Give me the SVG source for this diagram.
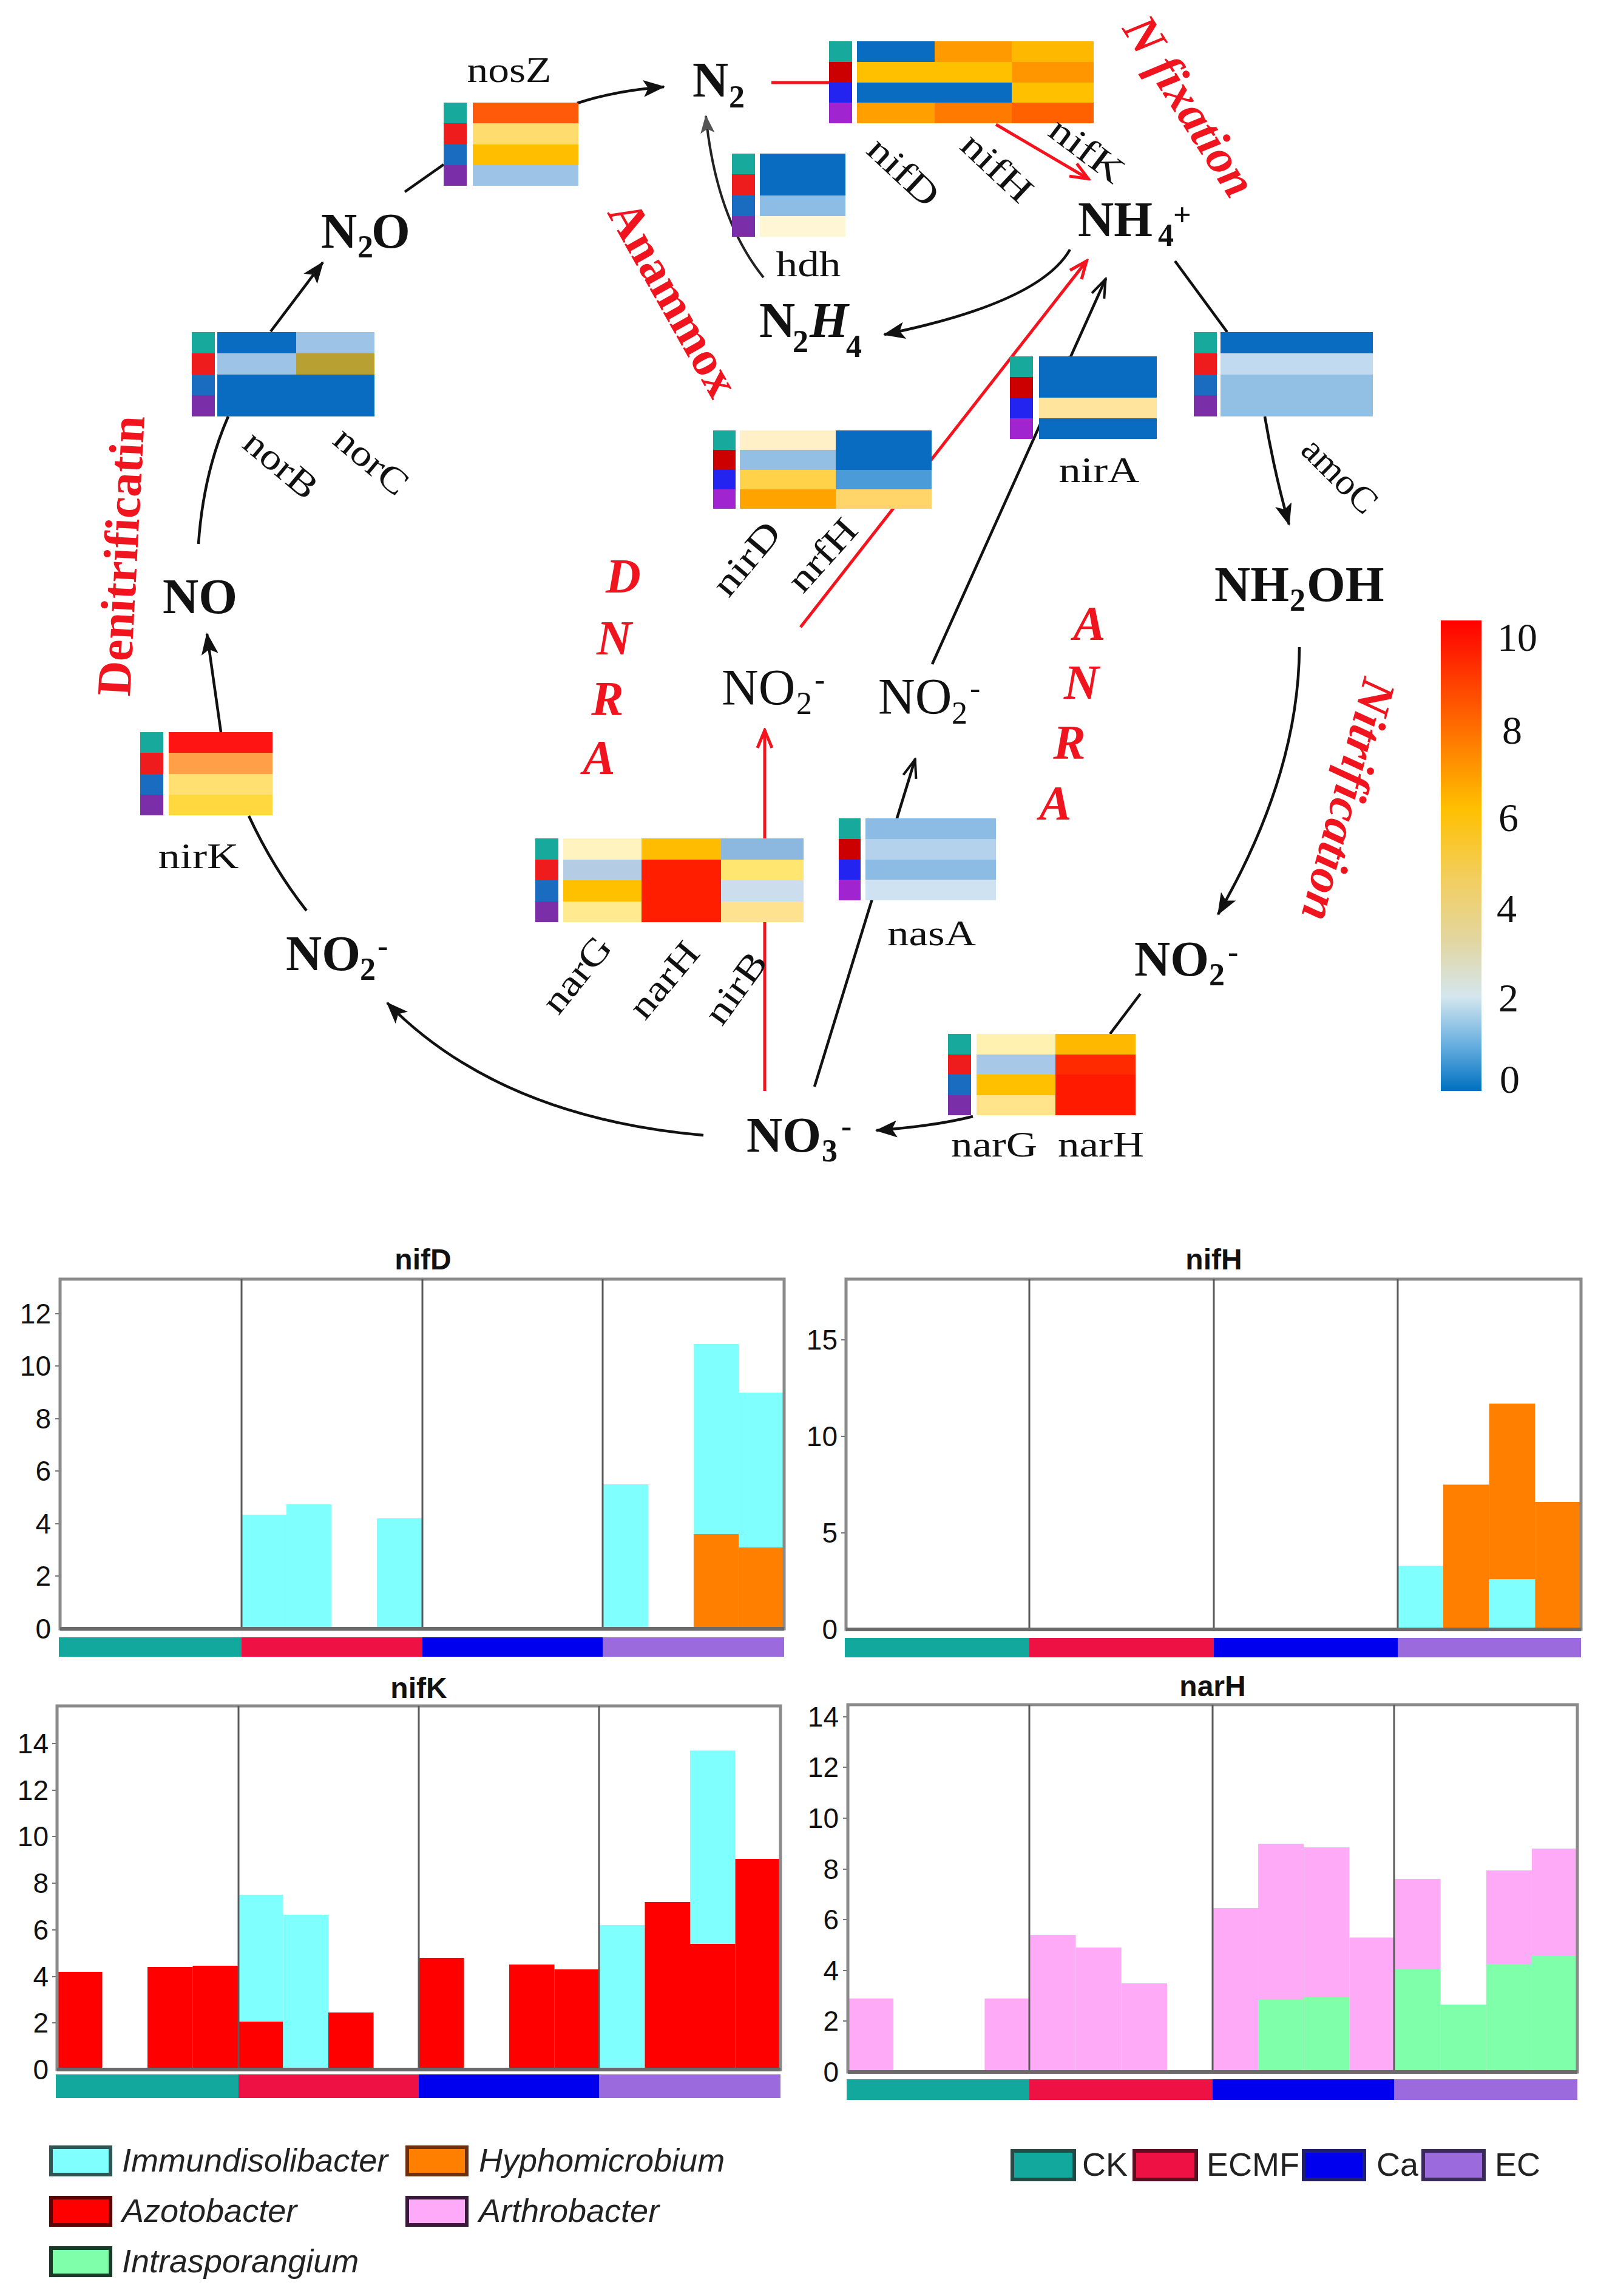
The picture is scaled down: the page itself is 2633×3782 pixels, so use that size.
<svg xmlns="http://www.w3.org/2000/svg" width="2633" height="3782" viewBox="0 0 2633 3782">
<defs>
<style>
.chem{font-family:"Liberation Serif","Times New Roman",serif;font-weight:bold;font-size:82px;fill:#111}
.chemr{font-family:"Liberation Serif","Times New Roman",serif;font-size:84px;fill:#111}
.sub{font-size:52px}
.gene{font-family:"Liberation Serif","Times New Roman",serif;font-size:60px;fill:#111;text-anchor:middle}
.rot{dominant-baseline:central}
.proc{font-family:"Liberation Serif","Times New Roman",serif;font-weight:bold;font-size:80px;fill:#F0141E}
.it{font-style:italic}
.ln{fill:none;stroke:#111;stroke-width:4.5}
.rl{fill:none;stroke:#F5141E;stroke-width:5}
.hm{shape-rendering:crispEdges}
.ax{font-family:"Liberation Sans",Arial,sans-serif;font-size:46px;fill:#111;text-anchor:end}
.ttl{font-family:"Liberation Sans",Arial,sans-serif;font-size:48px;font-weight:bold;fill:#111;text-anchor:middle}
.frame{fill:none;stroke:#8A8A8A;stroke-width:5}
.sep{stroke:#5A5A5A;stroke-width:3}
.base{stroke:#6A6A6A;stroke-width:6}
.tk{stroke:#777;stroke-width:2}
.leg{font-family:"Liberation Sans",Arial,sans-serif;font-size:54px;fill:#222}
.sw{stroke-width:6}
.cs{font-family:"Liberation Serif","Times New Roman",serif;font-size:66px;fill:#111}
.c{fill:#80FFFF}.o{fill:#FF8000}.r{fill:#FF0000}.p{fill:#FFAAF6}.g{fill:#80FFAA}
.sT{fill:#17A99B}.sR{fill:#EE1C1C}.sB{fill:#1A6CC0}.sP{fill:#7A2FA8}
.aR{fill:#CC0000}.aB{fill:#2424F0}.aP{fill:#A024D0}
.db{fill:#0A6CC0}
.gT{fill:#13A89E}.gR{fill:#EE1144}.gB{fill:#0000EE}.gP{fill:#9B6BDD}
</style>
<marker id="ah" markerUnits="userSpaceOnUse" viewBox="0 0 36 28" markerWidth="36" markerHeight="28" refX="34" refY="14" orient="auto"><path d="M0,0 L36,14 L0,28 L8,14 z" fill="#111"/></marker>
<marker id="ahg" markerUnits="userSpaceOnUse" viewBox="0 0 36 28" markerWidth="30" markerHeight="24" refX="34" refY="14" orient="auto"><path d="M0,0 L36,14 L0,28 L8,14 z" fill="#555"/></marker>
<marker id="av" markerUnits="userSpaceOnUse" viewBox="0 0 36 28" markerWidth="36" markerHeight="28" refX="34" refY="14" orient="auto"><path d="M3,3 L33,14 L3,25" fill="none" stroke="#111" stroke-width="4"/></marker>
<marker id="avr" markerUnits="userSpaceOnUse" viewBox="0 0 36 30" markerWidth="36" markerHeight="30" refX="33" refY="15" orient="auto"><path d="M3,3 L32,15 L3,27" fill="none" stroke="#F5141E" stroke-width="5"/></marker>
<linearGradient id="cbar" x1="0" y1="0" x2="0" y2="1">
<stop offset="0" stop-color="#FF0000"/>
<stop offset="0.12" stop-color="#FF3A00"/>
<stop offset="0.25" stop-color="#FF7800"/>
<stop offset="0.4" stop-color="#FFC000"/>
<stop offset="0.55" stop-color="#F2CE60"/>
<stop offset="0.68" stop-color="#E2D6A0"/>
<stop offset="0.8" stop-color="#D4E6EE"/>
<stop offset="0.9" stop-color="#6AB0E0"/>
<stop offset="1" stop-color="#0070C0"/>
</linearGradient>
</defs>
<rect width="2633" height="3782" fill="#fff"/>

<g id="connectors">
<path class="ln" d="M951 170 Q1010 150 1094 143" marker-end="url(#ah)"/>
<path class="ln" d="M446 546 L532 432" marker-end="url(#ah)"/>
<path class="ln" d="M667 316 L731 271"/>
<path class="ln" d="M327 896 Q335 780 376 686"/>
<path class="ln" d="M364 1206 L341 1044" marker-end="url(#ah)"/>
<path class="ln" d="M505 1500 Q450 1430 410 1344"/>
<path class="ln" d="M1159 1870 Q822 1840 638 1652" marker-end="url(#ah)"/>
<path d="M1258 457 Q1180 360 1163 191" fill="none" stroke="#222" stroke-width="4" marker-end="url(#ahg)"/>
<path class="ln" d="M1763 411 Q1713 499 1457 551" marker-end="url(#ah)"/>
<path class="rl" d="M1271 136 L1370 136"/>
<path class="rl" d="M1641 205 L1794 295" marker-end="url(#avr)"/>
<path class="rl" d="M1319 1033 L1791 429" marker-end="url(#avr)"/>
<path class="rl" d="M1260 1797 L1260 1202" marker-end="url(#avr)"/>
<path class="ln" d="M1536 1094 L1822 459" stroke-width="4" marker-end="url(#av)"/>
<path class="ln" d="M1342 1790 L1508 1250" stroke-width="4" marker-end="url(#av)"/>
<path class="ln" d="M1936 430 L2022 547"/>
<path class="ln" d="M2084 686 Q2100 780 2124 864" marker-end="url(#ah)"/>
<path class="ln" d="M2141 1066 Q2140 1276 2007 1506" marker-end="url(#ah)"/>
<path class="ln" d="M1879 1637 L1829 1703"/>
<path class="ln" d="M1603 1839 Q1540 1855 1444 1862" marker-end="url(#ah)"/>
</g>

<g id="heat-nosZ" class="hm">
<rect class="sT" x="731" y="169" width="38" height="35"/><rect class="sR" x="731" y="203.25" width="38" height="35"/><rect class="sB" x="731" y="237.5" width="38" height="35"/><rect class="sP" x="731" y="271.75" width="38" height="34.25"/>
<rect fill="#FF5A0A" x="779" y="169" width="174" height="35"/><rect fill="#FFDC6E" x="779" y="203.25" width="174" height="35"/><rect fill="#FFBE00" x="779" y="237.5" width="174" height="35"/><rect fill="#9DC3E6" x="779" y="271.75" width="174" height="34.25"/>
</g>
<g id="heat-nif" class="hm">
<rect class="sT" x="1366" y="68" width="38" height="34.5"/><rect class="aR" x="1366" y="101.75" width="38" height="34.5"/><rect class="aB" x="1366" y="135.5" width="38" height="34.5"/><rect class="aP" x="1366" y="169.25" width="38" height="33.75"/>
<rect class="db" x="1412" y="68" width="128" height="34.5"/><rect fill="#FF9A00" x="1540" y="68" width="127" height="34.5"/><rect fill="#FFB800" x="1667" y="68" width="135" height="34.5"/>
<rect fill="#FFC000" x="1412" y="101.75" width="255" height="34.5"/><rect fill="#FF9600" x="1667" y="101.75" width="135" height="34.5"/>
<rect class="db" x="1412" y="135.5" width="255" height="34.5"/><rect fill="#FFC000" x="1667" y="135.5" width="135" height="34.5"/>
<rect fill="#FFA000" x="1412" y="169.25" width="128" height="33.75"/><rect fill="#FF7A00" x="1540" y="169.25" width="127" height="33.75"/><rect fill="#FF6000" x="1667" y="169.25" width="135" height="33.75"/>
</g>
<g id="heat-hdh" class="hm">
<rect class="sT" x="1206" y="253" width="38" height="35"/><rect class="sR" x="1206" y="287.25" width="38" height="35"/><rect class="sB" x="1206" y="321.5" width="38" height="35"/><rect class="sP" x="1206" y="355.75" width="38" height="34.25"/>
<rect class="db" x="1252" y="253" width="141" height="69"/><rect fill="#8DBCE4" x="1252" y="321.5" width="141" height="35"/><rect fill="#FFF6D6" x="1252" y="355.75" width="141" height="34.25"/>
</g>
<g id="heat-nor" class="hm">
<rect class="sT" x="316" y="547" width="38" height="35.5"/><rect class="sR" x="316" y="581.75" width="38" height="35.5"/><rect class="sB" x="316" y="616.5" width="38" height="35.5"/><rect class="sP" x="316" y="651.25" width="38" height="34.75"/>
<rect class="db" x="358" y="547" width="130" height="35.5"/><rect fill="#9DC3E6" x="488" y="547" width="129" height="35.5"/>
<rect fill="#9DC3E6" x="358" y="581.75" width="130" height="35.5"/><rect fill="#B8A032" x="488" y="581.75" width="129" height="35.5"/>
<rect class="db" x="358" y="616.5" width="259" height="69.5"/>
</g>
<g id="heat-nirD" class="hm">
<rect class="sT" x="1175" y="709" width="37" height="33"/><rect class="aR" x="1175" y="741.25" width="37" height="33"/><rect class="aB" x="1175" y="773.5" width="37" height="33"/><rect class="aP" x="1175" y="805.75" width="37" height="32.25"/>
<rect fill="#FFF0C8" x="1219" y="709" width="158" height="33"/><rect fill="#94BFE4" x="1219" y="741.25" width="158" height="33"/><rect fill="#FFD24A" x="1219" y="773.5" width="158" height="33"/><rect fill="#FFA300" x="1219" y="805.75" width="158" height="32.25"/>
<rect class="db" x="1377" y="709" width="158" height="65"/><rect fill="#4B9BD8" x="1377" y="773.5" width="158" height="33"/><rect fill="#FFD468" x="1377" y="805.75" width="158" height="32.25"/>
</g>
<g id="heat-nirA" class="hm">
<rect class="sT" x="1664" y="587" width="38" height="34.5"/><rect class="aR" x="1664" y="621" width="38" height="34.5"/><rect class="aB" x="1664" y="655" width="38" height="34.5"/><rect class="aP" x="1664" y="689" width="38" height="34"/>
<rect class="db" x="1712" y="587" width="194" height="68.5"/><rect fill="#FFE49E" x="1712" y="655" width="194" height="34.5"/><rect class="db" x="1712" y="689" width="194" height="34"/>
</g>
<g id="heat-amoC" class="hm">
<rect class="sT" x="1967" y="547" width="38" height="35.5"/><rect class="sR" x="1967" y="581.75" width="38" height="35.5"/><rect class="sB" x="1967" y="616.5" width="38" height="35.5"/><rect class="sP" x="1967" y="651.25" width="38" height="34.75"/>
<rect class="db" x="2011" y="547" width="251" height="35.5"/><rect fill="#C2DAEF" x="2011" y="581.75" width="251" height="35.5"/><rect fill="#92BFE4" x="2011" y="616.5" width="251" height="69.5"/>
</g>
<g id="heat-nirK" class="hm">
<rect class="sT" x="231" y="1206" width="38" height="35"/><rect class="sR" x="231" y="1240.25" width="38" height="35"/><rect class="sB" x="231" y="1274.5" width="38" height="35"/><rect class="sP" x="231" y="1308.75" width="38" height="34.25"/>
<rect fill="#FF1414" x="278" y="1206" width="171" height="35"/><rect fill="#FFA048" x="278" y="1240.25" width="171" height="35"/><rect fill="#FFE070" x="278" y="1274.5" width="171" height="35"/><rect fill="#FFD840" x="278" y="1308.75" width="171" height="34.25"/>
</g>
<g id="heat-narGHB" class="hm">
<rect class="sT" x="882" y="1381" width="38" height="35"/><rect class="sR" x="882" y="1415.5" width="38" height="35"/><rect class="sB" x="882" y="1450" width="38" height="35"/><rect class="sP" x="882" y="1484.5" width="38" height="34.5"/>
<rect fill="#FFF3C0" x="928" y="1381" width="129" height="35"/><rect fill="#B4CCE4" x="928" y="1415.5" width="129" height="35"/><rect fill="#FFC000" x="928" y="1450" width="129" height="35"/><rect fill="#FFEA90" x="928" y="1484.5" width="129" height="34.5"/>
<rect fill="#FFBC00" x="1057" y="1381" width="131" height="35"/><rect fill="#FF1E00" x="1057" y="1415.5" width="131" height="103.5"/>
<rect fill="#8CB8E0" x="1188" y="1381" width="136" height="35"/><rect fill="#FFE670" x="1188" y="1415.5" width="136" height="35"/><rect fill="#CCDDED" x="1188" y="1450" width="136" height="35"/><rect fill="#FFE290" x="1188" y="1484.5" width="136" height="34.5"/>
</g>
<g id="heat-nasA" class="hm">
<rect class="sT" x="1382" y="1348" width="36" height="34.5"/><rect class="aR" x="1382" y="1381.75" width="36" height="34.5"/><rect class="aB" x="1382" y="1415.5" width="36" height="34.5"/><rect class="aP" x="1382" y="1449.25" width="36" height="33.75"/>
<rect fill="#8CBCE4" x="1426" y="1348" width="215" height="34.5"/><rect fill="#B4D2EC" x="1426" y="1381.75" width="215" height="34.5"/><rect fill="#8CBCE4" x="1426" y="1415.5" width="215" height="34.5"/><rect fill="#CFE2F2" x="1426" y="1449.25" width="215" height="33.75"/>
</g>
<g id="heat-narGH" class="hm">
<rect class="sT" x="1562" y="1703" width="38" height="34"/><rect class="sR" x="1562" y="1736.5" width="38" height="34"/><rect class="sB" x="1562" y="1770" width="38" height="34"/><rect class="sP" x="1562" y="1803.5" width="38" height="33.5"/>
<rect fill="#FFF2B0" x="1609" y="1703" width="130" height="34"/><rect fill="#A8C8E8" x="1609" y="1736.5" width="130" height="34"/><rect fill="#FFC000" x="1609" y="1770" width="130" height="34"/><rect fill="#FFE48C" x="1609" y="1803.5" width="130" height="33.5"/>
<rect fill="#FFB800" x="1739" y="1703" width="132" height="34"/><rect fill="#FF2A00" x="1739" y="1736.5" width="132" height="34"/><rect fill="#FF1A00" x="1739" y="1770" width="132" height="67"/>
</g>

<g id="gene-labels">
<text class="gene" x="839" y="135" textLength="139" lengthAdjust="spacingAndGlyphs">nosZ</text>
<text class="gene" x="1332" y="455" textLength="107" lengthAdjust="spacingAndGlyphs">hdh</text>
<text class="gene" x="1811" y="794" textLength="133" lengthAdjust="spacingAndGlyphs">nirA</text>
<text class="gene" x="1535" y="1557" textLength="146" lengthAdjust="spacingAndGlyphs">nasA</text>
<text class="gene" x="327" y="1430" textLength="133" lengthAdjust="spacingAndGlyphs">nirK</text>
<text class="gene" x="1638" y="1905" textLength="142" lengthAdjust="spacingAndGlyphs">narG</text>
<text class="gene" x="1814" y="1905" textLength="142" lengthAdjust="spacingAndGlyphs">narH</text>
<text class="gene rot" transform="translate(463 765) rotate(40)" textLength="140" lengthAdjust="spacingAndGlyphs">norB</text>
<text class="gene rot" transform="translate(612 759) rotate(40)" textLength="140" lengthAdjust="spacingAndGlyphs">norC</text>
<text class="gene rot" transform="translate(1489 283) rotate(43)" textLength="138" lengthAdjust="spacingAndGlyphs">nifD</text>
<text class="gene rot" transform="translate(1643 276) rotate(43)" textLength="138" lengthAdjust="spacingAndGlyphs">nifH</text>
<text class="gene rot" transform="translate(1791 247) rotate(37)" textLength="138" lengthAdjust="spacingAndGlyphs">nifK</text>
<text class="gene rot" transform="translate(1230 920) rotate(-50)" textLength="140" lengthAdjust="spacingAndGlyphs">nirD</text>
<text class="gene rot" transform="translate(1355 914) rotate(-48)" textLength="140" lengthAdjust="spacingAndGlyphs">nrfH</text>
<text class="gene rot" transform="translate(950 1605) rotate(-51)" textLength="145" lengthAdjust="spacingAndGlyphs">narG</text>
<text class="gene rot" transform="translate(1094 1614) rotate(-50)" textLength="145" lengthAdjust="spacingAndGlyphs">narH</text>
<text class="gene rot" transform="translate(1212 1627) rotate(-54)" textLength="132" lengthAdjust="spacingAndGlyphs">nirB</text>
<text class="gene rot" transform="translate(2208 783) rotate(45)" textLength="150" lengthAdjust="spacingAndGlyphs">amoC</text>
</g>

<g id="compounds">
<text id="N2" class="chem" x="1141" y="159">N<tspan class="sub" x="1201" y="177">2</tspan></text>
<text id="N2O" class="chem" x="529" y="408">N<tspan class="sub" x="589" y="424">2</tspan><tspan x="612" y="408">O</tspan></text>
<text id="NO" class="chem" x="268" y="1010">NO</text>
<text id="NO2-left" class="chem" x="471" y="1598">NO<tspan class="sub" x="593" y="1614">2</tspan><tspan class="sub" x="622" y="1575">-</tspan></text>
<text id="NH4" class="chem" x="1776" y="389" font-size="88">NH<tspan class="sub" x="1908" y="405">4</tspan><tspan class="sub" x="1933" y="371">+</tspan></text>
<text id="N2H4" class="chem" x="1251" y="555">N<tspan class="sub" x="1306" y="580">2</tspan><tspan class="it" x="1334" y="555">H</tspan><tspan class="sub" x="1394" y="588">4</tspan></text>
<text id="NH2OH" class="chem" x="2001" y="990">NH<tspan class="sub" x="2125" y="1006">2</tspan><tspan x="2153" y="990">OH</tspan></text>
<text id="NO2-right" class="chem" x="1869" y="1607">NO<tspan class="sub" x="1992" y="1623">2</tspan><tspan class="sub" x="2023" y="1585">-</tspan></text>
<text id="NO3" class="chem" x="1230" y="1897">NO<tspan class="sub" x="1354" y="1913">3</tspan><tspan class="sub" x="1386" y="1872">-</tspan></text>
<text id="NO2-dnra" class="chemr" x="1189" y="1161">NO<tspan class="sub" x="1312" y="1176">2</tspan><tspan class="sub" x="1342" y="1137">-</tspan></text>
<text id="NO2-anra" class="chemr" x="1447" y="1176">NO<tspan class="sub" x="1568" y="1192">2</tspan><tspan class="sub" x="1598" y="1151">-</tspan></text>
</g>

<g id="processes">
<text class="proc" text-anchor="middle" transform="translate(226 917) rotate(-87)">Denitrificatin</text>
<text class="proc" text-anchor="middle" transform="translate(1087 505) rotate(60.6)">Anammox</text>
<text class="proc it" text-anchor="middle" transform="translate(1938 189) rotate(57.6)">N fixation</text>
<text class="proc it" text-anchor="middle" transform="translate(2196 1311) rotate(104.8)">Nitrification</text>
<g class="proc it" text-anchor="middle" font-size="82">
<text x="1027" y="976">D</text><text x="1012" y="1078">N</text><text x="1001" y="1178">R</text><text x="987" y="1275">A</text>
<text x="1795" y="1054">A</text><text x="1782" y="1151">N</text><text x="1762" y="1250">R</text><text x="1739" y="1350">A</text>
</g>
</g>

<g id="colorbar">
<rect x="2374" y="1022" width="67" height="775" fill="url(#cbar)"/>
<text class="cs" x="2467" y="1072">10</text>
<text class="cs" x="2475" y="1225">8</text>
<text class="cs" x="2469" y="1369">6</text>
<text class="cs" x="2466" y="1519">4</text>
<text class="cs" x="2469" y="1666">2</text>
<text class="cs" x="2471" y="1800">0</text>
</g>

<g id="chart-nifD">
<text class="ttl" x="697" y="2091">nifD</text>
<rect class="c" x="397.3" y="2495" width="74.6" height="188"/>
<rect class="c" x="471.8" y="2478" width="74.6" height="205"/>
<rect class="c" x="620.9" y="2501" width="74.6" height="182"/>
<rect class="c" x="993.8" y="2445" width="74.6" height="238"/>
<rect class="o" x="1142.9" y="2527" width="74.6" height="156"/>
<rect class="c" x="1142.9" y="2214" width="74.6" height="313"/>
<rect class="o" x="1217.4" y="2549" width="74.6" height="134"/>
<rect class="c" x="1217.4" y="2294" width="74.6" height="255"/>
<rect class="frame" x="99" y="2107" width="1193" height="576"/>
<line class="sep" x1="398" y1="2107" x2="398" y2="2683"/><line class="sep" x1="696" y1="2107" x2="696" y2="2683"/><line class="sep" x1="993" y1="2107" x2="993" y2="2683"/>
<line class="base" x1="99" y1="2683" x2="1292" y2="2683"/>
<g class="ax"><text x="84" y="2699">0</text><text x="84" y="2612">2</text><text x="84" y="2526">4</text><text x="84" y="2439">6</text><text x="84" y="2353">8</text><text x="84" y="2266">10</text><text x="84" y="2180">12</text></g>
<g class="tk"><line x1="91" y1="2596" x2="97" y2="2596"/><line x1="91" y1="2510" x2="97" y2="2510"/><line x1="91" y1="2423" x2="97" y2="2423"/><line x1="91" y1="2337" x2="97" y2="2337"/><line x1="91" y1="2250" x2="97" y2="2250"/><line x1="91" y1="2164" x2="97" y2="2164"/></g>
<rect class="gT" x="97" y="2697" width="301" height="32"/><rect class="gR" x="398" y="2697" width="298" height="32"/><rect class="gB" x="696" y="2697" width="297" height="32"/><rect class="gP" x="993" y="2697" width="299" height="32"/>
</g>

<g id="chart-nifH">
<text class="ttl" x="2000" y="2091">nifH</text>
<rect class="c" x="2302.3" y="2579" width="75.7" height="105"/>
<rect class="o" x="2377.9" y="2445.5" width="75.7" height="238.5"/>
<rect class="c" x="2453.6" y="2601.3" width="75.7" height="82.7"/>
<rect class="o" x="2453.6" y="2312" width="75.7" height="289.3"/>
<rect class="o" x="2529.3" y="2474" width="75.7" height="210"/>
<rect class="frame" x="1394" y="2107" width="1211" height="577"/>
<line class="sep" x1="1696" y1="2107" x2="1696" y2="2684"/><line class="sep" x1="2000" y1="2107" x2="2000" y2="2684"/><line class="sep" x1="2303" y1="2107" x2="2303" y2="2684"/>
<line class="base" x1="1394" y1="2684" x2="2605" y2="2684"/>
<g class="ax"><text x="1380" y="2700">0</text><text x="1380" y="2541">5</text><text x="1380" y="2382">10</text><text x="1380" y="2223">15</text></g>
<g class="tk"><line x1="1386" y1="2525" x2="1392" y2="2525"/><line x1="1386" y1="2366" x2="1392" y2="2366"/><line x1="1386" y1="2207" x2="1392" y2="2207"/></g>
<rect class="gT" x="1392" y="2698" width="304" height="32"/><rect class="gR" x="1696" y="2698" width="304" height="32"/><rect class="gB" x="2000" y="2698" width="303" height="32"/><rect class="gP" x="2303" y="2698" width="302" height="32"/>
</g>

<g id="chart-nifK">
<text class="ttl" x="690" y="2797">nifK</text>
<rect class="r" x="94" y="3248" width="74.5" height="161"/>
<rect class="r" x="243" y="3240" width="74.5" height="169"/>
<rect class="r" x="317.5" y="3238" width="74.5" height="171"/>
<rect class="r" x="392" y="3330" width="74.5" height="79"/>
<rect class="c" x="392" y="3121" width="74.5" height="209"/>
<rect class="c" x="466.5" y="3154" width="74.5" height="255"/>
<rect class="r" x="541" y="3315" width="74.5" height="94"/>
<rect class="r" x="690" y="3225" width="74.5" height="184"/>
<rect class="r" x="839" y="3236" width="74.5" height="173"/>
<rect class="r" x="913.5" y="3244" width="74.5" height="165"/>
<rect class="c" x="988" y="3171" width="74.5" height="238"/>
<rect class="r" x="1062.5" y="3133" width="74.5" height="276"/>
<rect class="r" x="1137" y="3202" width="74.5" height="207"/>
<rect class="c" x="1137" y="2883.5" width="74.5" height="318.5"/>
<rect class="r" x="1211.5" y="3062" width="74.5" height="347"/>
<rect class="frame" x="94" y="2810" width="1192" height="599"/>
<line class="sep" x1="393" y1="2810" x2="393" y2="3409"/><line class="sep" x1="690" y1="2810" x2="690" y2="3409"/><line class="sep" x1="987" y1="2810" x2="987" y2="3409"/>
<line class="base" x1="94" y1="3409" x2="1286" y2="3409"/>
<g class="ax"><text x="80" y="3425">0</text><text x="80" y="3348">2</text><text x="80" y="3272">4</text><text x="80" y="3195">6</text><text x="80" y="3118">8</text><text x="80" y="3041">10</text><text x="80" y="2965">12</text><text x="80" y="2888">14</text></g>
<g class="tk"><line x1="86" y1="3332" x2="92" y2="3332"/><line x1="86" y1="3256" x2="92" y2="3256"/><line x1="86" y1="3179" x2="92" y2="3179"/><line x1="86" y1="3102" x2="92" y2="3102"/><line x1="86" y1="3025" x2="92" y2="3025"/><line x1="86" y1="2949" x2="92" y2="2949"/><line x1="86" y1="2872" x2="92" y2="2872"/></g>
<rect class="gT" x="92" y="3417" width="301" height="39"/><rect class="gR" x="393" y="3417" width="297" height="39"/><rect class="gB" x="690" y="3417" width="297" height="39"/><rect class="gP" x="987" y="3417" width="299" height="39"/>
</g>

<g id="chart-narH">
<text class="ttl" x="1998" y="2794">narH</text>
<rect class="p" x="1397" y="3292" width="75.1" height="121"/>
<rect class="p" x="1622.4" y="3292" width="75.1" height="121"/>
<rect class="p" x="1697.5" y="3187" width="75.1" height="226"/>
<rect class="p" x="1772.6" y="3208" width="75.1" height="205"/>
<rect class="p" x="1847.8" y="3267" width="75.1" height="146"/>
<rect class="p" x="1998" y="3143" width="75.1" height="270"/>
<rect class="g" x="2073.1" y="3294" width="75.1" height="119"/>
<rect class="p" x="2073.1" y="3037" width="75.1" height="257"/>
<rect class="g" x="2148.3" y="3290" width="75.1" height="123"/>
<rect class="p" x="2148.3" y="3043" width="75.1" height="247"/>
<rect class="p" x="2223.4" y="3191.5" width="75.1" height="221.5"/>
<rect class="g" x="2298.5" y="3244" width="75.1" height="169"/>
<rect class="p" x="2298.5" y="3095" width="75.1" height="149"/>
<rect class="g" x="2373.6" y="3302" width="75.1" height="111"/>
<rect class="g" x="2448.8" y="3235" width="75.1" height="178"/>
<rect class="p" x="2448.8" y="3081" width="75.1" height="154"/>
<rect class="g" x="2523.9" y="3221" width="75.1" height="192"/>
<rect class="p" x="2523.9" y="3045" width="75.1" height="176"/>
<rect class="frame" x="1397" y="2808" width="1202" height="605"/>
<line class="sep" x1="1696" y1="2808" x2="1696" y2="3413"/><line class="sep" x1="1998" y1="2808" x2="1998" y2="3413"/><line class="sep" x1="2297" y1="2808" x2="2297" y2="3413"/>
<line class="base" x1="1397" y1="3413" x2="2599" y2="3413"/>
<g class="ax"><text x="1382" y="3429">0</text><text x="1382" y="3345">2</text><text x="1382" y="3262">4</text><text x="1382" y="3178">6</text><text x="1382" y="3095">8</text><text x="1382" y="3011">10</text><text x="1382" y="2927">12</text><text x="1382" y="2844">14</text></g>
<g class="tk"><line x1="1389" y1="3329" x2="1395" y2="3329"/><line x1="1389" y1="3246" x2="1395" y2="3246"/><line x1="1389" y1="3162" x2="1395" y2="3162"/><line x1="1389" y1="3079" x2="1395" y2="3079"/><line x1="1389" y1="2995" x2="1395" y2="2995"/><line x1="1389" y1="2911" x2="1395" y2="2911"/><line x1="1389" y1="2828" x2="1395" y2="2828"/></g>
<rect class="gT" x="1395" y="3425" width="301" height="34"/><rect class="gR" x="1696" y="3425" width="302" height="34"/><rect class="gB" x="1998" y="3425" width="299" height="34"/><rect class="gP" x="2297" y="3425" width="302" height="34"/>
</g>

<g id="legend-taxa">
<rect class="sw" x="84" y="3537" width="98" height="45" fill="#80FFFF" stroke="#2F5555"/>
<text class="leg it" x="201" y="3577">Immundisolibacter</text>
<rect class="sw" x="671" y="3537" width="98" height="45" fill="#FF8000" stroke="#6A3010"/>
<text class="leg it" x="789" y="3577">Hyphomicrobium</text>
<rect class="sw" x="84" y="3620" width="98" height="45" fill="#FF0000" stroke="#600000"/>
<text class="leg it" x="201" y="3660">Azotobacter</text>
<rect class="sw" x="671" y="3620" width="98" height="45" fill="#FFAAF8" stroke="#3A1A3A"/>
<text class="leg it" x="789" y="3660">Arthrobacter</text>
<rect class="sw" x="84" y="3703" width="98" height="45" fill="#80FFAA" stroke="#1A3A28"/>
<text class="leg it" x="201" y="3743">Intrasporangium</text>
</g>
<g id="legend-groups">
<rect class="sw" x="1668" y="3543" width="102" height="47" fill="#13A89E" stroke="#284A46"/>
<text class="leg" x="1783" y="3584">CK</text>
<rect class="sw" x="1869" y="3543" width="102" height="47" fill="#EE1144" stroke="#5A1020"/>
<text class="leg" x="1988" y="3584">ECMF</text>
<rect class="sw" x="2148" y="3543" width="100" height="47" fill="#0000EE" stroke="#20206A"/>
<text class="leg" x="2268" y="3584">Ca</text>
<rect class="sw" x="2345" y="3543" width="100" height="47" fill="#9B6BDD" stroke="#3A2A5A"/>
<text class="leg" x="2463" y="3584">EC</text>
</g>
</svg>
